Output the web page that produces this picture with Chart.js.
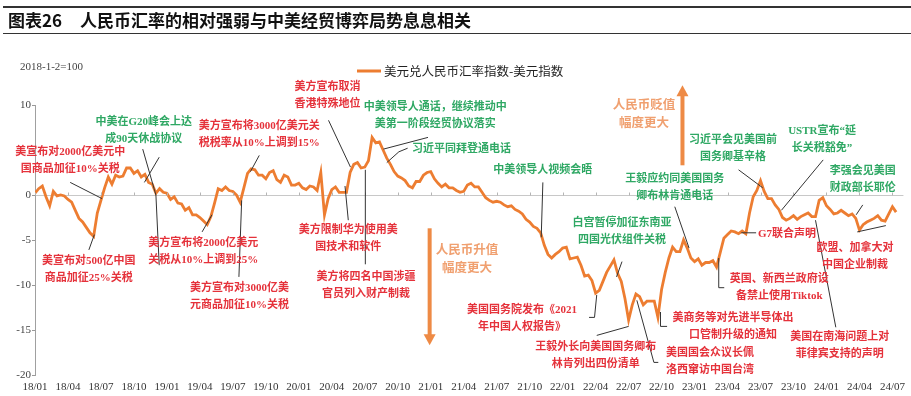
<!DOCTYPE html>
<html lang="zh-CN">
<head>
<meta charset="UTF-8">
<title>人民币汇率的相对强弱与中美经贸博弈局势息息相关</title>
<script src="https://cdn.jsdelivr.net/npm/chart.js@4.4.1/dist/chart.umd.min.js"></script>
<style>
  html, body { margin: 0; padding: 0; background: #fff; }
  #wrap { position: relative; width: 911px; height: 396px; }
</style>
</head>
<body>
<div id="wrap"><canvas id="rmbChart"></canvas></div>
<script>
// 美元兑人民币汇率指数-美元指数 (2018-1-2=100), one reading every ~10 days from 2018-01
const quarterLabels = ['18/01','18/04','18/07','18/10','19/01','19/04','19/07','19/10',
  '20/01','20/04','20/07','20/10','21/01','21/04','21/07','21/10',
  '22/01','22/04','22/07','22/10','23/01','23/04','23/07','23/10',
  '24/01','24/04','24/07'];

const indexValues = [
  0.2, 0.7, 1.0, -0.2, -1.2, 0.4, -0.1, 0.0, -0.1, -0.5,
  -0.8, -1.7, -2.6, -3.0, -3.6, -4.2, -4.6, -2.0, -0.6, 0.8,
  2.0, 1.2, 2.2, 2.0, 2.1, 3.0, 3.0, 2.4, 2.7, 2.0,
  2.3, 1.4, 1.2, 0.2, 0.7, 0.3, 0.2, -0.5, -0.2, -0.9,
  -1.0, -1.7, -1.4, -2.2, -2.2, -2.5, -2.9, -3.3, -2.4, -0.9,
  0.7, 0.5, 0.9, 0.5, 0.4, 0.0, -0.8, 0.8, 2.4, 2.9,
  2.8, 2.2, 2.2, 1.8, 2.5, 2.7, 1.7, 1.4, 2.2, 2.0,
  1.1, 1.1, 1.3, 0.8, 0.6, 1.0, 0.9, 0.5, 2.5, -2.2,
  -0.4, 0.6, 0.9, 0.3, 0.3, 0.3, 2.5, 3.4, 3.6, 3.0,
  3.1, 3.8, 6.4, 5.8, 5.9, 5.0, 4.1, 3.4, 2.6, 2.1,
  1.9, 1.6, 1.0, 0.8, 1.5, 1.5, 2.2, 2.5, 2.6, 1.8,
  1.3, 0.9, 1.2, 0.8, 0.8, 0.5, 0.3, 0.4, 1.1, 1.3,
  0.9, 0.9, 0.3, -0.3, -0.6, -0.8, -0.7, -0.8, -1.1, -1.3,
  -1.2, -1.6, -1.8, -2.1, -2.7, -3.0, -3.5, -3.7, -4.2, -5.6,
  -6.6, -7.0, -6.6, -6.3, -5.9, -5.8, -7.1, -7.0, -6.9, -7.8,
  -9.0, -8.9, -9.5, -10.9, -10.6, -9.6, -8.6, -7.9, -7.2, -8.7,
  -9.6, -11.5, -13.9, -12.2, -11.0, -11.3, -12.2, -11.8, -11.8, -11.8,
  -13.6, -10.5, -8.6, -7.0, -5.8, -6.3, -6.3, -5.0, -5.9, -7.0,
  -7.4, -7.1, -7.8, -7.5, -7.5, -7.3, -8.0, -6.4, -4.8, -4.4,
  -4.0, -4.1, -4.3, -4.0, -4.3, -2.0, -0.2, 0.5, 1.6, 0.4,
  -0.4, -0.4, -1.1, -1.6, -2.5, -2.8, -2.6, -2.3, -2.7, -2.4,
  -2.2, -2.0, -2.4, -2.4, -0.6, -0.3, -1.2, -1.6, -2.1, -2.0,
  -1.7, -2.0, -2.3, -2.1, -2.6, -3.9, -3.3, -3.0, -2.8, -2.6,
  -2.3, -2.8, -2.9, -2.1, -1.3, -1.9
];

// event notes: position in chart units [month since 18/01, index value]
const noteTexts = [
  ['美宣布对2000亿美元中', '国商品加征10%关税'],
  ['中美在G20峰会上达', '成90天休战协议'],
  ['美方宣布将2000亿美元', '关税从10%上调到25%'],
  ['美宣布对500亿中国', '商品加征25%关税'],
  ['美方宣布对3000亿美', '元商品加征10%关税'],
  ['美方宣布将3000亿美元关', '税税率从10%上调到15%'],
  ['美方宣布取消', '香港特殊地位'],
  ['中美领导人通话，继续推动中', '美第一阶段经贸协议落实'],
  ['习近平同拜登通电话'],
  ['美方限制华为使用美', '国技术和软件'],
  ['美方将四名中国涉疆', '官员列入财产制裁'],
  ['中美领导人视频会晤'],
  ['习近平会见美国前', '国务卿基辛格'],
  ['USTR宣布“延', '长关税豁免”'],
  ['李强会见美国', '财政部长耶伦'],
  ['王毅应约同美国国务', '卿布林肯通电话'],
  ['白宫暂停加征东南亚', '四国光伏组件关税'],
  ['美国国务院发布《2021', '年中国人权报告》'],
  ['王毅外长向美国国务卿布', '林肯列出四份清单'],
  ['美国国会众议长佩', '洛西窜访中国台湾'],
  ['美商务等对先进半导体出', '口管制升级的通知'],
  ['英国、新西兰政府设', '备禁止使用Tiktok'],
  ['G7联合声明'],
  ['欧盟、加拿大对', '中国企业制裁'],
  ['美国在南海问题上对', '菲律宾支持的声明']
];
const noteKinds = ['r','g','r','r','r','r','r','g','g','r','r','g','g','g','g','g','g','r','r','r','r','r','r','r','r'];
const noteAt = [
  [3.2, 4.8], [9.9, 8.1], [15.3, -5.3], [4.9, -7.4], [18.6, -10.4], [20.4, 7.6],
  [26.6, 12.0], [36.4, 9.8], [38.8, 5.1], [28.5, -3.9], [30.1, -9.1], [46.2, 2.8],
  [63.5, 6.1], [71.6, 7.1], [75.3, 2.6], [58.2, 1.8], [53.4, -3.1], [44.3, -12.8],
  [51.0, -16.9], [61.4, -17.6], [63.5, -13.7], [67.7, -9.4], [68.4, -4.4], [74.6, -5.9],
  [73.2, -15.8]
];
const leaderLines = [
  [[3.2, 1.4], [6.1, -0.4]],
  [[9.8, 5.1], [11.0, 0.0], [11.3, -7.8]],
  [[11.3, 4.2], [9.95, 1.4]],
  [[15.2, -4.1], [16.1, -2.2]],
  [[4.9, -6.1], [5.4, -4.4]],
  [[18.55, -9.1], [18.8, -0.6]],
  [[20.4, 4.4], [19.6, 2.6]],
  [[26.7, 8.3], [28.7, 3.1]],
  [[35.75, 6.4], [31.7, 5.1]],
  [[33.9, 5.2], [33.1, 4.8], [32.0, 3.6]],
  [[28.5, -2.8], [28.2, 1.0]],
  [[30.05, -7.7], [30.05, 2.8]],
  [[46.2, 1.4], [46.05, -4.7]],
  [[64.0, 2.8], [66.2, 0.8]],
  [[71.7, 3.9], [67.9, -1.7]],
  [[75.3, -1.1], [74.7, -2.2]],
  [[58.2, -1.3], [59.5, -5.9]],
  [[53.4, -7.4], [52.9, -9.1]],
  [[50.4, -13.6], [50.9, -13.6], [51.1, -11.1]],
  [[51.1, -15.6], [54.0, -14.6]],
  [[54.75, -11.7], [56.3, -18.6], [56.7, -18.6]],
  [[56.9, -13.0], [56.9, -14.6], [57.5, -14.6]],
  [[62.7, -10.3], [62.2, -10.3], [62.2, -7.0]],
  [[65.6, -4.2], [64.25, -4.2]],
  [[74.8, -4.1], [77.4, -3.4]],
  [[72.85, -14.7], [71.0, -2.8]]
];
// big arrows: RMB weaker (up) / stronger (down)
const arrowTexts = [['人民币贬值', '幅度更大'], ['人民币升值', '幅度更大']];
const arrowTextAt = [[55.4, 10.1], [39.3, -6.0]];
const arrowFromTo = [[[58.9, 3.3], [58.9, 12.2]], [[35.9, -3.7], [35.9, -16.7]]];

const ORANGE = '#ED7D31';
const RED = '#E5323B';
const GREEN = '#2FA864';
const NOTE_FONT = 'bold 11px "Liberation Serif", "Noto Sans CJK SC", serif';
const SERIF = '"Liberation Serif", "DejaVu Serif", serif';

const points = indexValues.map(function (v, i) { return {x: i / 3, y: v}; });

const overlay = {
    id: 'overlay',
    afterDraw(chart) {
        const ctx = chart.ctx;
        const xs = chart.scales.x, ys = chart.scales.y;
        const X = m => xs.getPixelForValue(m);
        const Y = v => ys.getPixelForValue(v);
        ctx.save();

        // title bar
        ctx.fillStyle = '#333';
        ctx.fillRect(3, 6, 908, 2);
        ctx.fillRect(3, 33, 908, 1);
        ctx.fillStyle = '#111';
        ctx.textBaseline = 'middle';
        ctx.font = 'bold 17px "Noto Sans CJK SC", sans-serif';
        ctx.fillText('图表26', 8, 21);
        ctx.fillText('人民币汇率的相对强弱与中美经贸博弈局势息息相关', 80, 21);

        // base note and legend
        ctx.font = '11px ' + SERIF;
        ctx.fillStyle = '#444';
        ctx.fillText('2018-1-2=100', 20, 67);
        ctx.strokeStyle = ORANGE;
        ctx.lineWidth = 3;
        ctx.beginPath(); ctx.moveTo(357, 71); ctx.lineTo(381, 71); ctx.stroke();
        ctx.font = '12.5px "Noto Sans CJK SC", sans-serif';
        ctx.fillStyle = '#222';
        ctx.fillText('美元兑人民币汇率指数-美元指数', 384, 71);

        // small ticks on the zero line
        ctx.strokeStyle = '#b5b5b5';
        ctx.lineWidth = 1;
        const y0 = Math.round(Y(0)) + 0.5;
        xs.ticks.forEach(function (t) {
            const px = Math.round(X(t.value)) + 0.5;
            ctx.beginPath(); ctx.moveTo(px, y0); ctx.lineTo(px, y0 - 3); ctx.stroke();
        });

        // leader lines
        ctx.strokeStyle = '#333';
        ctx.lineWidth = 1;
        leaderLines.forEach(function (pts) {
            ctx.beginPath();
            pts.forEach(function (p, i) {
                if (i === 0) ctx.moveTo(X(p[0]), Y(p[1])); else ctx.lineTo(X(p[0]), Y(p[1]));
            });
            ctx.stroke();
        });

        // arrows
        ctx.strokeStyle = '#EE8A45';
        ctx.fillStyle = '#EE8A45';
        arrowFromTo.forEach(function (a) {
            const x1 = X(a[0][0]), y1 = Y(a[0][1]), x2 = X(a[1][0]), y2 = Y(a[1][1]);
            const dir = y2 < y1 ? -1 : 1;
            ctx.lineWidth = 4;
            ctx.beginPath(); ctx.moveTo(x1, y1); ctx.lineTo(x2, y2 - dir * 9); ctx.stroke();
            ctx.beginPath();
            ctx.moveTo(x2, y2);
            ctx.lineTo(x2 - 6, y2 - dir * 11);
            ctx.lineTo(x2 + 6, y2 - dir * 11);
            ctx.closePath(); ctx.fill();
        });

        // texts
        ctx.textAlign = 'center';
        ctx.textBaseline = 'middle';
        ctx.font = NOTE_FONT;
        noteTexts.forEach(function (lines, k) {
            ctx.fillStyle = noteKinds[k] === 'g' ? GREEN : RED;
            const cx = X(noteAt[k][0]), cy = Y(noteAt[k][1]);
            lines.forEach(function (s, i) { ctx.fillText(s, cx, cy + i * 17); });
        });
        ctx.fillStyle = '#F0A070';
        ctx.font = 'bold 12.5px "Noto Sans CJK SC", sans-serif';
        arrowTexts.forEach(function (lines, k) {
            const cx = X(arrowTextAt[k][0]), cy = Y(arrowTextAt[k][1]);
            lines.forEach(function (s, i) { ctx.fillText(s, cx, cy + i * 18); });
        });
        ctx.restore();
    }
};

new Chart(document.getElementById('rmbChart'), {
    type: 'line',
    data: {
        datasets: [{
            label: '美元兑人民币汇率指数-美元指数',
            data: points,
            borderColor: ORANGE,
            borderWidth: 2.8,
            pointRadius: 0,
            tension: 0,
            fill: false
        }]
    },
    options: {
        responsive: true,
        maintainAspectRatio: false,
        animation: false,
        layout: { padding: { top: 105, right: 3, left: 0, bottom: 0 } },
        plugins: { legend: { display: false }, tooltip: { enabled: false } },
        scales: {
            x: {
                type: 'linear',
                min: 0,
                max: 79,
                grid: { display: false, drawTicks: false },
                border: { display: false },
                afterFit: function (s) { s.height = 21; },
                ticks: {
                    stepSize: 3,
                    autoSkip: false,
                    maxRotation: 0,
                    includeBounds: false,
                    padding: 6,
                    color: '#333',
                    font: { family: SERIF, size: 11 },
                    callback: function (v) {
                        const q = Math.round(v / 3);
                        return Math.abs(v - q * 3) < 1e-6 && quarterLabels[q] ? quarterLabels[q] : '';
                    }
                }
            },
            y: {
                min: -20,
                max: 10,
                afterFit: function (s) { s.width = 35; },
                grid: {
                    color: function (c) { return c.tick && c.tick.value === 0 ? '#c8c8c8' : 'rgba(0,0,0,0)'; },
                    tickColor: '#999',
                    tickLength: 3
                },
                border: { display: true, color: '#a0a0a0' },
                ticks: {
                    stepSize: 5,
                    padding: 1,
                    color: '#444',
                    font: { family: SERIF, size: 11 },
                    callback: function (v) { return v === 5 ? '' : String(v); }
                }
            }
        }
    },
    plugins: [overlay]
});
</script>
</body>
</html>
